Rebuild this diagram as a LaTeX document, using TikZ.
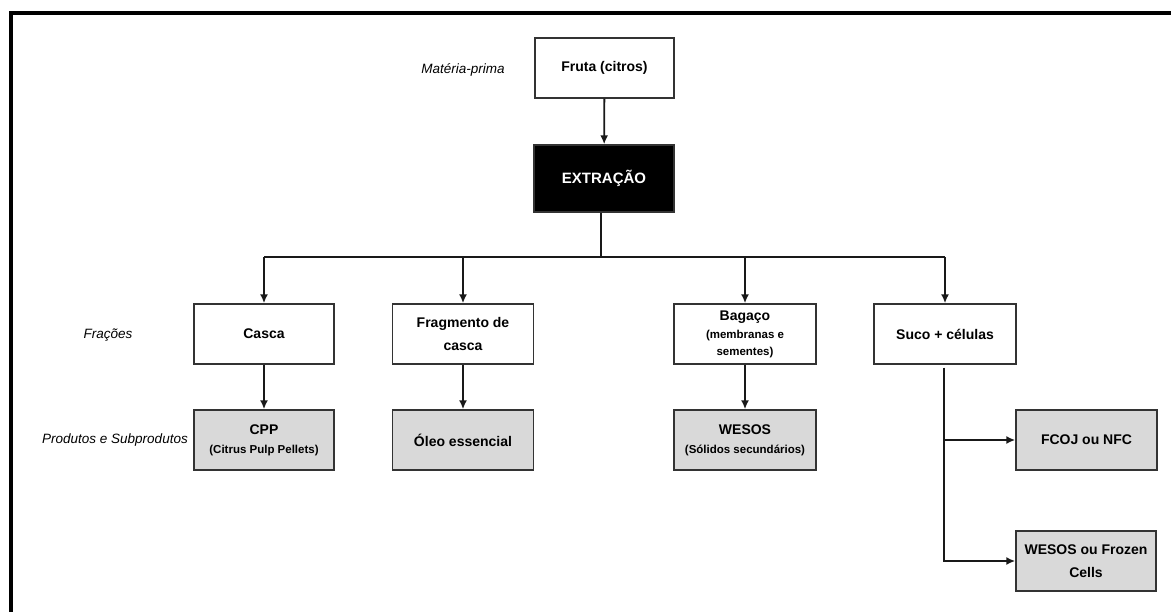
\documentclass[tikz,border=0pt]{standalone}
\usepackage{fontspec}
\setmainfont{Liberation Sans}
\usetikzlibrary{arrows.meta}
\definecolor{boxgray}{HTML}{D9D9D9}
\definecolor{edge}{HTML}{333333}
\newcommand\smalltxt{\fontsize{11.5}{14}\selectfont\bfseries}
\begin{document}
\begin{tikzpicture}[x=1pt,y=-1pt,
  box/.style={draw=edge,line width=1.4pt,fill=white,minimum width=140pt,minimum height=60pt,
    inner sep=2pt,align=center,font=\fontsize{14}{23}\selectfont\bfseries},
  prod/.style={box,fill=boxgray},
  lbl/.style={font=\fontsize{13.5}{16}\selectfont\itshape},
  conn/.style={line width=1.8pt,draw=black!90},
  arr/.style={conn,-{Latex[length=9pt,width=8pt]}}]
\useasboundingbox (0,0) rectangle (1171,612);
% outer frame (top and left edges)
\draw[line width=4pt,line cap=rect] (11,612) -- (11,13) -- (1171,13);

% raw material and extraction
\node[box,minimum width=139pt] (fruta) at (604.5,68) {Fruta (citros)};
\node[box,fill=black,text=white,minimum height=67pt,font=\fontsize{15}{18}\selectfont\bfseries] (extr) at (604,178.5) {EXTRAÇÃO};

% fractions
\node[box] (casca) at (264,334) {Casca};
\node[box,minimum width=141pt] (frag) at (463,334) {Fragmento de\\casca};
\node[box,minimum width=142pt,font=\fontsize{14}{16}\selectfont\bfseries] (bagaco) at (745,334) {Bagaço\\[2pt]{\smalltxt (membranas e}\\[1pt]{\smalltxt sementes)}};
\node[box,minimum width=142pt] (suco) at (945,334) {Suco + células};

% products and by-products
\node[prod] (cpp) at (264,440) {CPP\\[-4pt]{\smalltxt (Citrus Pulp Pellets)}};
\node[prod,minimum width=141pt] (oleo) at (463,440) {Óleo essencial};
\node[prod,minimum width=142pt] (wesos) at (745,440) {WESOS\\[-4pt]{\smalltxt (Sólidos secundários)}};
\node[prod,minimum width=141pt] (fcoj) at (1086.5,440) {FCOJ ou NFC};
\node[prod] (frozen) at (1086,561) {WESOS ou Frozen\\Cells};

% row labels
\node[lbl] (lmp) at (463,70) {Matéria-prima};
\node[lbl] (lfr) at (108,335) {Frações};
\node[lbl] (lps) at (115,440) {Produtos e Subprodutos};

% connectors
\draw[arr] (fruta) -- (extr);
\coordinate (bus) at (601,257);
\draw[conn] (extr.south -| bus) -- (bus);
\draw[conn] (bus -| casca) -- (bus -| suco);
\draw[arr] (bus -| casca) -- (casca);
\draw[arr] (bus -| frag) -- (frag);
\draw[arr] (bus -| bagaco) -- (bagaco);
\draw[arr] (bus -| suco) -- (suco);

\draw[arr] (casca) -- (cpp);
\draw[arr] (frag) -- (oleo);
\draw[arr] (bagaco) -- (wesos);

\coordinate (split) at ([xshift=-1pt]suco.south |- fcoj.west);
\draw[arr,shorten <=3pt] ([xshift=-1pt]suco.south) |- (frozen.west);
\draw[arr] (split) -- (fcoj.west);
\end{tikzpicture}
\end{document}
